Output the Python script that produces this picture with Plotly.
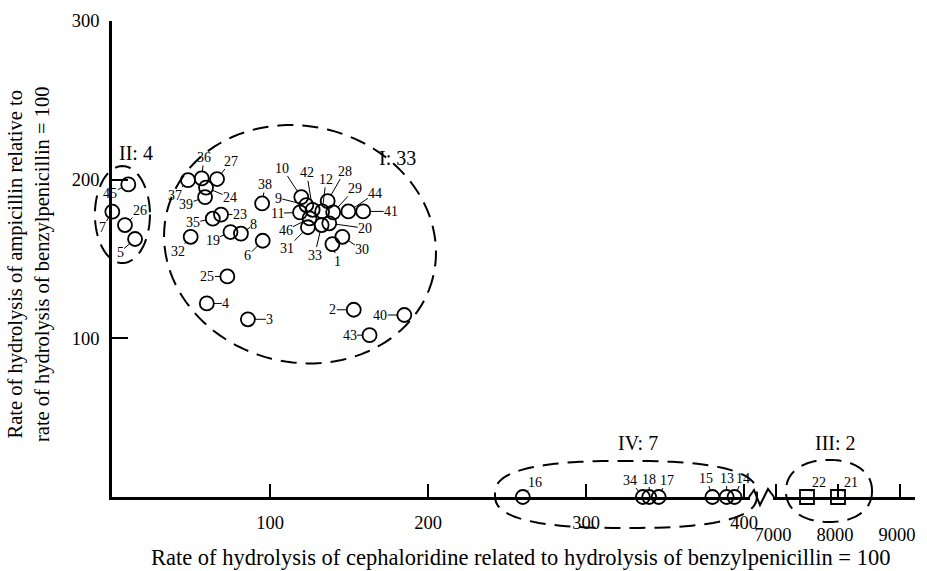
import numpy as np
import plotly.graph_objects as go

# ---------------- data ----------------
# Group I (33 compounds)
g1_ids = [1, 2, 3, 4, 6, 8, 9, 10, 11, 12, 19, 20, 23, 24, 25, 27, 28, 29, 30, 31,
          32, 33, 35, 36, 37, 38, 39, 40, 41, 42, 43, 44, 46]
g1_ceph = [139.5, 153, 86, 60, 95.4, 81.6, 123, 119.8, 119, 133, 75, 137.5, 69, 59.5, 73,
           66.5, 136.5, 140, 145.8, 124, 49.8, 132.7, 63.8, 56.8, 48.1, 95, 58.9, 185, 159,
           127, 163, 149.6, 125]
g1_amp = [159.4, 118, 112, 122, 161.5, 166, 184, 189, 179.4, 180, 167, 172.5, 178, 195, 139,
          200.4, 186.5, 179.4, 164, 170, 164, 171.4, 175.4, 200.8, 199.7, 185, 189, 114.7,
          180, 181, 102, 180, 175.6]

# Group II (4 compounds)
g2_ids = [5, 7, 26, 45]
g2_ceph = [14.6, 0.2, 8.2, 10.3]
g2_amp = [162.6, 179.8, 171.4, 197]

# Group IV (7 compounds, ampicillin rate ~ 0)
g4_ids = [16, 34, 18, 17, 15, 13, 14]
g4_ceph = [260, 336, 340, 346, 380, 389, 394]
g4_amp = [0, 0, 0, 0, 0, 0, 0]

# Group III (2 compounds, very high cephaloridine rate)
g3_ids = [22, 21]
g3_ceph = [7500, 8000]
g3_amp = [0, 0]

group_labels = ["I: 33", "II: 4", "IV: 7", "III: 2"]

x1_ticks = [100, 200, 300, 400]
x2_ticks = [7000, 8000, 9000]
y_ticks = [100, 200, 300]

x_title = "Rate of hydrolysis of cephaloridine related to hydrolysis of benzylpenicillin = 100"
y_title = ("Rate of hydrolysis of ampicillin relative to<br>"
           "rate of hydrolysis of benzylpenicillin = 100")

# ---------------- layout geometry / styles ----------------
W, H = 927, 571
PL, PR, PT, PB = 112, 915, 21, 497          # plot-area pixel edges
PW, PH = PR - PL, PB - PT
X1_END_PX, X2_START_PX = 750, 773
X1_RANGE = [0, (X1_END_PX - PL) / 1.58]
X2_RANGE = [7000 - (776 - X2_START_PX) / 0.062, 7000 + (PR - 776) / 0.062]
Y_RANGE = [0, 300]
X1_DOM = [0, (X1_END_PX - PL) / PW]
X2_DOM = [(X2_START_PX - PL) / PW, 1]

FONT = "Liberation Serif"


def to_px_x1(v):
    return PL + X1_DOM[0] * PW + (v - X1_RANGE[0]) / (X1_RANGE[1] - X1_RANGE[0]) * (X1_DOM[1] - X1_DOM[0]) * PW


def to_px_x2(v):
    return PL + X2_DOM[0] * PW + (v - X2_RANGE[0]) / (X2_RANGE[1] - X2_RANGE[0]) * (X2_DOM[1] - X2_DOM[0]) * PW


def to_px_y(v):
    return PB - (v - Y_RANGE[0]) / (Y_RANGE[1] - Y_RANGE[0]) * PH


def px_to_paper(px, py):
    return (px - PL) / PW, (PB - py) / PH


def blob_path(cxp, cyp, rxp, ryp, rot_deg=0.0, n=2.0, steps=120):
    """closed (super)ellipse in pixel space -> SVG path in paper coords"""
    t = np.linspace(0, 2 * np.pi, steps, endpoint=False)
    c, s = np.cos(t), np.sin(t)
    ex = rxp * np.sign(c) * np.abs(c) ** (2 / n)
    ey = ryp * np.sign(s) * np.abs(s) ** (2 / n)
    th = np.radians(rot_deg)
    xs = cxp + ex * np.cos(th) - ey * np.sin(th)
    ys = cyp + ex * np.sin(th) + ey * np.cos(th)
    pts = [px_to_paper(a, b) for a, b in zip(xs, ys)]
    return "M " + " L ".join(f"{a:.5f},{b:.5f}" for a, b in pts) + " Z"


# label offsets (pixels) for the numbered leader labels
OFF = {
    36: (2, -21), 27: (14, -18), 37: (-13, 15), 24: (24, 10), 39: (-19, 7), 35: (-20, 4),
    23: (19, 0), 19: (-18, 8), 8: (13, -9), 32: (-13, 15), 6: (-15, 15), 38: (3, -19),
    25: (-20, 0), 4: (19, 0), 3: (22, 0), 2: (-21, 0), 40: (-24, 0), 43: (-20, 0),
    10: (-19, -29), 42: (-6, -37), 12: (4, -32), 28: (17, -30), 29: (22, -24),
    44: (27, -18), 41: (28, 0), 9: (-28, -7), 11: (-23, 1), 46: (-24, 12), 31: (-21, 21),
    33: (-7, 30), 20: (36, 5), 1: (5, 17), 30: (20, 13),
    45: (-18, 9), 7: (-10, 16), 26: (15, -15), 5: (-15, 13),
    16: (12, -15), 34: (-13, -17), 18: (0, -18), 17: (8, -17), 15: (-6, -19), 13: (0, -19),
    14: (8, -19), 22: (12, -15), 21: (13, -15),
}

fig = go.Figure()

circle_marker = dict(symbol="circle-open", size=14, color="black", line=dict(width=1.8, color="black"))
square_marker = dict(symbol="square-open", size=14, color="black", line=dict(width=1.8, color="black"))

for ids, xs, ys, xa, mk in [(g1_ids, g1_ceph, g1_amp, "x", circle_marker),
                            (g2_ids, g2_ceph, g2_amp, "x", circle_marker),
                            (g4_ids, g4_ceph, g4_amp, "x", circle_marker),
                            (g3_ids, g3_ceph, g3_amp, "x2", square_marker)]:
    fig.add_trace(go.Scatter(x=xs, y=ys, xaxis=xa, yaxis="y", mode="markers",
                             marker=mk, cliponaxis=False, showlegend=False,
                             text=[str(i) for i in ids], hoverinfo="text+x+y"))

annotations = []
for ids, xs, ys, xr in [(g1_ids, g1_ceph, g1_amp, "x"), (g2_ids, g2_ceph, g2_amp, "x"),
                        (g4_ids, g4_ceph, g4_amp, "x"), (g3_ids, g3_ceph, g3_amp, "x2")]:
    for i, xv, yv in zip(ids, xs, ys):
        ax, ay = OFF.get(i, (15, -15))
        annotations.append(dict(x=xv, y=yv, xref=xr, yref="y", text=str(i), showarrow=True,
                                arrowhead=0, arrowwidth=1, arrowcolor="black", ax=ax, ay=ay,
                                standoff=7, borderpad=0,
                                font=dict(family=FONT, size=14, color="black")))

# group labels
grp_pos = [(180.4, 213.6, "x"), (15.2, 216.8, "x"), (332.9, 34, "x"), (7952, 34, "x2")]
for txt, (gx, gy, xr) in zip(group_labels, grp_pos):
    annotations.append(dict(x=gx, y=gy, xref=xr, yref="y", text=txt, showarrow=False,
                            font=dict(family=FONT, size=20, color="black")))

# axis titles
annotations.append(dict(x=(520 - PL) / PW, y=0, xref="paper", yref="paper", yanchor="middle",
                        yshift=-(557 - PB), text=x_title, showarrow=False,
                        font=dict(family=FONT, size=22.5, color="black")))
annotations.append(dict(x=0, y=(PB - 265) / PH, xref="paper", yref="paper", xanchor="center",
                        xshift=-(PL - 29), text=y_title, showarrow=False, textangle=-90,
                        font=dict(family=FONT, size=20.5, color="black")))

# dashed group outlines (pixel-space blobs built from data-space centres)
shapes = []
outlines = [
    # (centre x, centre y, x-axis fn, rx px, ry px, rotation, exponent)
    (119.0, 159.3, to_px_x1, 137, 118, 14, 2.0),
    (6.6, 178.0, to_px_x1, 27.5, 48.5, 0, 2.0),
    (325.3, 1.6, to_px_x1, 131, 33.5, 0, 2.6),
    (7855, 3.8, to_px_x2, 43, 31, 0, 2.2),
]
for cx, cy, fx, rxp, ryp, rot, n in outlines:
    shapes.append(dict(type="path", xref="paper", yref="paper",
                       path=blob_path(fx(cx), to_px_y(cy), rxp, ryp, rot, n),
                       line=dict(color="black", width=2, dash="16px,9px")))

# axis break zig-zag
zig_px = [(X1_END_PX - 1, PB), (754, 490), (760, 505), (768, 489), (X2_START_PX + 1, PB)]
zp = [px_to_paper(a, b) for a, b in zig_px]
shapes.append(dict(type="path", xref="paper", yref="paper",
                   path="M " + " L ".join(f"{a:.5f},{b:.5f}" for a, b in zp),
                   line=dict(color="black", width=2)))

axis_common = dict(showgrid=False, zeroline=False, showline=True, linecolor="black", linewidth=2.5,
                   ticks="inside", ticklen=13, tickwidth=1.5, tickcolor="black", automargin=False,
                   tickfont=dict(family=FONT, size=18.5, color="black"))

fig.update_layout(
    width=W, height=H,
    margin=dict(l=PL, r=W - PR, t=PT, b=H - PB, pad=0, autoexpand=False),
    paper_bgcolor="white", plot_bgcolor="white",
    showlegend=False,
    xaxis=dict(domain=X1_DOM, range=X1_RANGE, tickmode="array", tickvals=x1_ticks,
               anchor="y", ticklabelstandoff=7, **axis_common),
    xaxis2=dict(domain=X2_DOM, range=X2_RANGE, tickmode="array", tickvals=x2_ticks,
                anchor="y", ticklabelshift=-3, ticklabelstandoff=19, **axis_common),
    yaxis=dict(domain=[0, 1], range=Y_RANGE, tickmode="array", tickvals=y_ticks,
               anchor="x", ticklabelstandoff=6, **{**axis_common, "ticklen": 16}),
    annotations=annotations,
    shapes=shapes,
)

fig.write_html("out.html")
